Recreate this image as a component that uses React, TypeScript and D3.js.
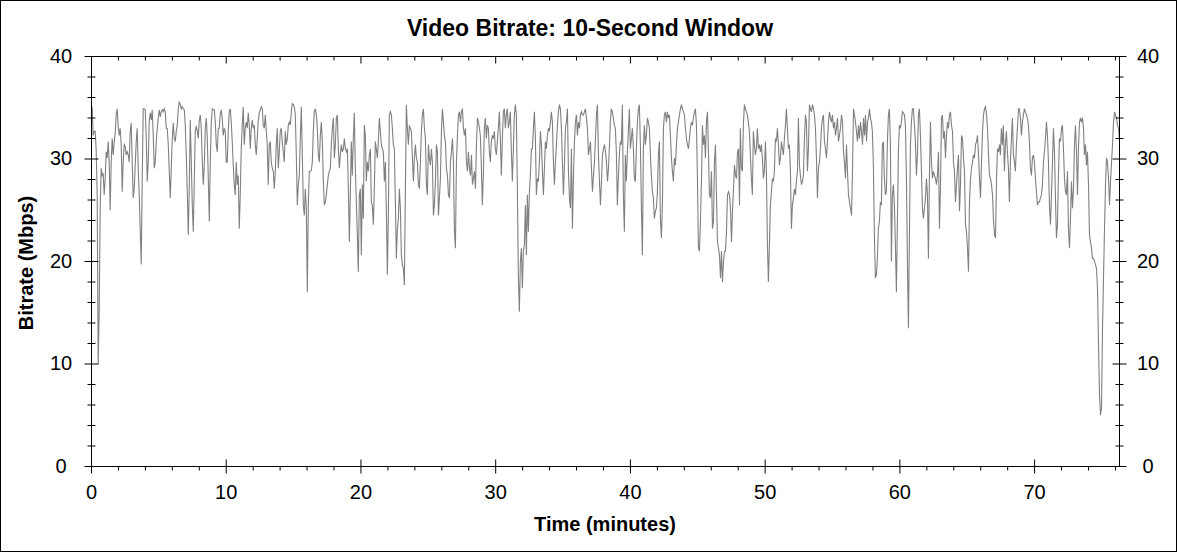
import * as d3 from 'd3'

// Video bitrate, 10-second window, sampled every ~4.5 s (Mbps)
const sampleStep = 0.0743 // minutes between samples
const segmentStart = [0.05, 9.48, 19.21, 28.86, 38.51, 48.16, 57.81, 67.46]

const bitrate00 = [
  35.1, 32.3, 32.7, 32.7, 30.9, 26.5, 10.0, 15.1, 25.2, 29.1,
  28.4, 28.6, 26.5, 28.1, 30.7, 30.1, 31.7, 29.7, 25.0, 29.7,
  32.0, 30.4, 31.7, 32.5, 34.3, 34.9, 33.2, 32.3, 33.0, 31.4,
  26.8, 29.7, 31.4, 31.2, 30.4, 30.7, 30.4, 29.7, 32.7, 33.5,
  29.7, 26.2, 27.1, 29.4, 31.7, 33.0, 29.1, 26.5, 23.2, 19.7,
  28.1, 34.9, 34.9, 34.8, 32.0, 27.8, 29.7, 33.6, 34.5, 33.8,
  34.8, 32.3, 29.1, 29.7, 31.7, 33.0, 34.0, 34.8, 34.1, 34.6,
  34.8, 34.6, 34.9, 34.6, 33.0, 33.0, 31.4, 28.8, 26.2, 29.1,
  32.0, 33.5, 32.0, 31.7, 32.7, 33.3, 34.9, 35.6, 35.3, 34.9,
  35.1, 34.9, 34.8, 33.3, 30.4, 26.8, 22.6, 27.1, 33.8, 29.7,
  25.5, 22.9, 27.8, 32.7, 33.2, 32.7, 32.0, 33.8, 34.3, 33.0,
  29.7, 27.5, 29.4, 33.0, 34.0, 32.0, 28.1, 23.9, 29.7, 33.6,
  34.9, 34.8, 34.8, 33.6, 31.4, 30.7, 33.0,
]

const bitrate10 = [
  33.0, 34.3, 34.8, 34.0, 32.3, 33.0, 32.7, 29.7, 29.7, 32.7,
  34.6, 34.9, 33.6, 31.7, 29.4, 27.5, 26.5, 29.7, 27.5, 28.4,
  23.2, 26.5, 31.0, 33.3, 35.1, 31.4, 33.0, 33.6, 33.0, 34.5,
  33.3, 31.0, 33.0, 33.8, 33.0, 33.3, 31.4, 30.4, 32.0, 33.8,
  34.5, 34.8, 35.1, 34.9, 33.3, 33.0, 34.3, 32.7, 31.4, 27.5,
  31.4, 31.7, 29.7, 29.1, 28.8, 27.1, 28.8, 31.4, 33.0, 29.1,
  30.7, 32.7, 33.0, 31.7, 30.7, 29.7, 32.7, 31.4, 32.0, 33.3,
  33.6, 33.3, 34.6, 35.4, 35.3, 35.1, 34.3, 30.4, 25.5, 27.5,
  28.4, 32.0, 35.1, 30.4, 25.5, 24.5, 27.1, 25.2, 17.0, 25.5,
  28.8, 28.8, 28.9, 29.7, 32.7, 34.6, 34.9, 34.3, 33.0, 30.4,
  29.7, 32.3, 33.6, 31.7, 27.8, 25.5, 25.8, 26.5, 27.5, 28.4,
  28.8, 29.1, 31.4, 33.0, 34.0, 30.1, 31.4, 34.0, 34.3, 31.0,
  29.1, 30.4, 31.4, 30.7, 31.0, 32.0, 31.0, 30.7, 31.0, 27.1,
  21.9,
]

const bitrate19 = [
  26.5, 31.7, 28.4, 32.0, 34.5, 29.1, 25.8, 22.6, 19.0, 26.5,
  27.1, 20.6, 27.5, 24.2, 33.3, 32.3, 27.8, 29.7, 28.8, 30.4,
  31.0, 25.8, 25.5, 23.6, 27.1, 31.7, 31.0, 30.1, 31.7, 34.0,
  32.7, 31.4, 31.0, 30.7, 27.8, 29.7, 24.9, 18.7, 24.5, 34.3,
  34.6, 34.3, 33.0, 31.4, 31.0, 25.8, 20.3, 23.2, 24.2, 27.1,
  25.2, 20.6, 19.7, 19.3, 17.7, 27.1, 35.3, 33.0, 31.4, 33.2,
  33.0, 32.7, 30.1, 27.8, 30.1, 31.4, 30.1, 29.7, 27.5, 27.1,
  29.7, 32.7, 34.3, 34.9, 33.0, 32.0, 27.5, 26.5, 31.4, 30.1,
  29.4, 31.0, 29.7, 24.5, 25.5, 27.8, 31.4, 30.7, 24.5, 26.2,
  28.1, 32.7, 34.9, 33.6, 32.3, 31.7, 29.1, 28.4, 26.5, 26.2,
  29.7, 30.7, 32.0, 29.7, 22.9, 21.3, 29.7, 32.3, 34.3, 34.6,
  33.6, 34.6, 34.9, 33.0, 32.3, 33.0, 29.7, 28.8, 30.7, 29.1,
  28.4, 30.4, 27.5, 28.1, 28.8, 27.1, 31.4, 34.0, 33.6, 33.0,
]

const bitrate29 = [
  32.3, 29.4, 25.5, 28.4, 33.0, 34.0, 32.0, 33.3, 33.0, 30.7,
  29.7, 31.7, 32.3, 32.0, 32.7, 31.0, 30.4, 31.7, 33.0, 34.6,
  32.0, 28.4, 32.0, 34.6, 34.9, 33.0, 34.3, 34.9, 33.0, 33.6,
  34.6, 30.7, 27.8, 31.0, 34.3, 35.3, 34.3, 27.1, 18.4, 15.1,
  20.0, 21.3, 17.4, 21.0, 21.6, 25.5, 20.6, 26.5, 22.9, 26.8,
  28.4, 31.0, 31.0, 33.0, 34.6, 32.0, 26.5, 28.1, 27.8, 29.7,
  32.7, 31.4, 28.8, 26.5, 29.1, 31.7, 31.0, 32.3, 33.0, 32.7,
  33.6, 34.6, 33.6, 29.7, 27.5, 29.7, 31.4, 33.3, 34.6, 35.3,
  34.9, 33.0, 29.7, 26.5, 29.4, 33.0, 33.6, 34.9, 28.8, 26.2,
  25.2, 31.0, 23.2, 28.1, 31.7, 33.6, 34.3, 32.3, 33.6, 33.0,
  34.3, 34.6, 34.3, 34.3, 34.6, 34.9, 34.0, 33.0, 30.4, 31.0,
  31.7, 29.1, 26.8, 28.4, 29.7, 32.0, 34.3, 35.3, 30.4, 27.8,
  25.5, 27.8, 30.4, 31.0, 31.4, 30.7, 29.7, 27.8, 29.1, 31.4,
]

const bitrate38 = [
  33.6, 34.9, 34.6, 34.0, 33.3, 33.0, 30.7, 25.5, 28.1, 30.4,
  31.7, 31.4, 35.3, 26.5, 22.9, 30.4, 27.8, 30.7, 32.7, 34.9,
  31.0, 32.0, 33.0, 31.0, 28.1, 27.8, 31.0, 33.6, 34.9, 35.3,
  31.4, 25.5, 20.6, 31.0, 33.3, 31.4, 32.3, 34.0, 33.6, 33.0,
  30.4, 28.4, 26.8, 26.2, 24.2, 24.9, 25.2, 26.8, 30.4, 31.7,
  24.2, 22.3, 25.5, 33.0, 34.3, 34.6, 33.6, 34.6, 34.0, 34.3,
  32.3, 30.1, 28.8, 27.8, 30.1, 29.4, 31.4, 33.0, 33.6, 34.3,
  34.9, 35.3, 34.9, 34.6, 34.3, 33.0, 32.0, 31.4, 31.0, 32.0,
  33.0, 33.6, 33.3, 34.0, 34.6, 34.9, 33.3, 28.1, 21.3, 21.0,
  23.9, 27.8, 33.3, 31.4, 32.3, 30.1, 33.6, 34.6, 30.7, 26.5,
  26.2, 28.8, 23.2, 23.9, 29.7, 31.4, 26.5, 21.9, 21.3, 20.6,
  18.4, 21.0, 18.0, 20.0, 21.0, 21.0, 22.9, 26.5, 26.8, 26.5,
  25.2, 21.9, 24.9, 27.1, 29.4, 28.4, 28.1, 30.7, 31.0, 25.5,
]

const bitrate48 = [
  33.0, 29.1, 28.8, 33.3, 35.3, 34.9, 34.6, 34.3, 33.6, 32.7,
  30.4, 28.1, 26.5, 32.7, 31.4, 30.4, 31.0, 33.0, 31.0, 31.4,
  30.7, 31.4, 30.1, 28.1, 28.8, 31.7, 28.8, 21.9, 18.0, 21.6,
  25.5, 26.8, 28.1, 27.8, 28.8, 32.0, 31.7, 33.0, 31.4, 29.4,
  30.1, 31.7, 31.0, 30.4, 32.0, 33.3, 34.9, 33.0, 31.0, 31.4,
  28.8, 23.2, 25.5, 26.2, 27.1, 26.5, 27.8, 28.8, 34.0, 29.4,
  28.4, 27.5, 27.8, 28.4, 32.0, 34.3, 33.6, 28.8, 31.0, 35.3,
  34.9, 34.6, 35.3, 34.9, 34.3, 33.0, 30.1, 26.2, 29.1, 29.7,
  31.0, 33.0, 34.0, 34.3, 31.7, 31.0, 30.1, 31.7, 33.6, 34.6,
  34.0, 33.6, 34.3, 33.0, 33.6, 32.3, 33.0, 34.0, 31.7, 32.3,
  33.0, 34.3, 33.6, 30.7, 29.7, 28.1, 31.4, 28.8, 26.5, 25.8,
  25.2, 24.5, 28.8, 34.9, 34.3, 33.6, 32.7, 31.7, 33.3, 32.0,
  33.6, 32.7, 31.4, 34.0, 32.3, 34.3, 31.7, 33.6, 34.0, 34.9,
]

const bitrate58 = [
  34.0, 33.6, 32.7, 29.4, 22.6, 18.4, 18.7, 20.3, 23.2, 23.9,
  25.8, 25.5, 31.4, 31.7, 28.1, 26.5, 26.8, 31.7, 34.3, 34.9,
  31.4, 20.0, 26.5, 27.5, 25.5, 21.6, 17.0, 23.9, 30.7, 33.3,
  33.0, 33.6, 34.6, 34.5, 34.3, 33.3, 28.1, 20.0, 13.5, 22.6,
  31.4, 33.6, 34.9, 34.9, 33.3, 31.7, 28.4, 30.4, 34.3, 34.9,
  32.3, 28.8, 25.2, 24.2, 25.2, 26.2, 28.1, 26.5, 20.3, 28.4,
  33.6, 29.7, 28.1, 28.8, 28.4, 28.1, 27.5, 28.4, 30.7, 23.2,
  27.1, 34.0, 34.3, 32.0, 32.7, 30.1, 32.3, 33.6, 33.0, 34.3,
  34.6, 33.3, 32.7, 29.7, 28.8, 25.8, 27.5, 29.1, 30.4, 24.9,
  27.5, 32.3, 32.0, 30.1, 28.8, 23.6, 22.9, 21.3, 19.0, 25.8,
  28.1, 29.1, 29.7, 30.4, 30.1, 31.4, 31.7, 32.3, 30.4, 28.1,
  26.2, 29.7, 32.7, 34.3, 34.9, 35.1, 34.3, 33.0, 30.4, 28.4,
  28.1, 27.5, 26.5, 23.9, 22.6, 22.3, 28.1, 31.0, 30.7, 31.4,
]

const bitrate67 = [
  30.4, 33.0, 31.4, 33.3, 28.8, 31.4, 32.7, 30.7, 29.1, 25.8,
  29.7, 32.0, 34.0, 30.4, 29.7, 28.8, 31.4, 33.0, 34.9, 34.9,
  34.0, 32.3, 33.6, 34.3, 34.9, 34.6, 34.3, 34.0, 33.3, 31.7,
  29.1, 28.4, 30.1, 30.4, 29.7, 28.1, 26.8, 25.5, 25.8, 25.8,
  26.2, 26.5, 27.5, 29.7, 30.7, 32.0, 33.6, 32.3, 29.7, 25.5,
  23.6, 26.5, 29.7, 33.0, 30.7, 26.2, 22.3, 23.6, 28.4, 32.0,
  31.7, 33.0, 33.3, 31.0, 28.1, 26.8, 26.5, 28.8, 23.2, 21.3,
  24.2, 27.8, 25.2, 27.1, 31.4, 33.3, 30.7, 26.5, 31.0, 33.6,
  34.0, 33.6, 34.0, 33.0, 30.4, 31.4, 29.4, 30.7, 27.5, 22.6,
  21.9, 21.3, 20.3, 20.3, 20.0, 19.7, 19.3, 17.4, 11.9, 7.0,
  5.0, 5.7, 13.5, 18.4, 23.2, 27.5, 30.1, 29.7, 28.1, 25.5,
  27.8, 29.7, 31.4, 33.6, 34.6, 34.3, 34.0, 33.3, 33.0, 31.7,
]

const segments = [bitrate00, bitrate10, bitrate19, bitrate29, bitrate38, bitrate48, bitrate58, bitrate67]

const xMax = 76.3
const xTickValues = [0, 10, 20, 30, 40, 50, 60, 70]
const yTickValues = [0, 10, 20, 30, 40]

const chartTitle = 'Video Bitrate: 10-Second Window'
const xTitle = 'Time (minutes)'
const yTitle = 'Bitrate (Mbps)'

const W = 1178
const H = 552
const plot = { left: 91.5, right: 1119.5, top: 56.5, bottom: 466.5 }
const FONT = '"Liberation Sans", Arial, Helvetica, sans-serif'

export default function App() {
  const x = d3.scaleLinear().domain([0, xMax]).range([plot.left, plot.right])
  const y = d3.scaleLinear().domain([0, 40]).range([plot.bottom, plot.top])

  const points: [number, number][] = []
  segments.forEach((vals, s) => {
    vals.forEach((v, i) => points.push([segmentStart[s] + i * sampleStep, v]))
  })

  const line = d3
    .line<[number, number]>()
    .x((d) => x(d[0]))
    .y((d) => y(d[1]))

  const xMinor = d3.range(0, xMax, 2).filter((v) => v % 10 !== 0)
  const yMinor = d3.range(0, 40, 2).filter((v) => v % 10 !== 0)

  const tickStroke = { stroke: '#000', strokeWidth: 1 }

  return (
    <svg
      width={W}
      height={H}
      style={{ position: 'absolute', left: 0, top: 0, background: '#fff' }}
      fontFamily={FONT}
    >
      <rect x={0.5} y={0.5} width={W - 2} height={H - 1} fill="#fff" stroke="#000" />

      <defs>
        <clipPath id="plot-clip">
          <rect x={plot.left} y={plot.top} width={plot.right - plot.left} height={plot.bottom - plot.top} />
        </clipPath>
      </defs>

      <path d={line(points) ?? ''} fill="none" stroke="#808080" strokeWidth={1.1} clipPath="url(#plot-clip)" />

      {/* frame */}
      <rect
        x={plot.left}
        y={plot.top}
        width={plot.right - plot.left}
        height={plot.bottom - plot.top}
        fill="none"
        stroke="#000"
      />

      {/* left + right axis ticks */}
      {yTickValues.map((v) => (
        <g key={`ym${v}`}>
          <line x1={plot.left - 7} x2={plot.left + 7} y1={y(v)} y2={y(v)} {...tickStroke} />
          <line x1={plot.right - 7} x2={plot.right + 7} y1={y(v)} y2={y(v)} {...tickStroke} />
          <text x={61} y={y(v) + 6} fontSize={20} textAnchor="middle" fill="#000">
            {v}
          </text>
          <text x={1148} y={y(v) + 6} fontSize={20} textAnchor="middle" fill="#000">
            {v}
          </text>
        </g>
      ))}
      {yMinor.map((v) => (
        <g key={`yn${v}`}>
          <line x1={plot.left - 4} x2={plot.left + 4} y1={y(v)} y2={y(v)} {...tickStroke} />
          <line x1={plot.right - 4} x2={plot.right + 4} y1={y(v)} y2={y(v)} {...tickStroke} />
        </g>
      ))}

      {/* bottom + top axis ticks */}
      {xTickValues.map((v) => (
        <g key={`xm${v}`}>
          <line x1={x(v)} x2={x(v)} y1={plot.bottom - 7} y2={plot.bottom + 7} {...tickStroke} />
          <line x1={x(v)} x2={x(v)} y1={plot.top} y2={plot.top + 7} {...tickStroke} />
          <text x={x(v)} y={499} fontSize={20} textAnchor="middle" fill="#000">
            {v}
          </text>
        </g>
      ))}
      {xMinor.map((v) => (
        <g key={`xn${v}`}>
          <line x1={x(v)} x2={x(v)} y1={plot.bottom} y2={plot.bottom + 4} {...tickStroke} />
          <line x1={x(v)} x2={x(v)} y1={plot.top} y2={plot.top + 4} {...tickStroke} />
        </g>
      ))}

      <text x={590} y={36} fontSize={23} fontWeight="bold" textAnchor="middle" fill="#000">
        {chartTitle}
      </text>
      <text x={605} y={531} fontSize={20} fontWeight="bold" textAnchor="middle" fill="#000">
        {xTitle}
      </text>
      <text
        transform={`translate(33,263) rotate(-90)`}
        fontSize={20}
        fontWeight="bold"
        textAnchor="middle"
        fill="#000"
      >
        {yTitle}
      </text>
    </svg>
  )
}
